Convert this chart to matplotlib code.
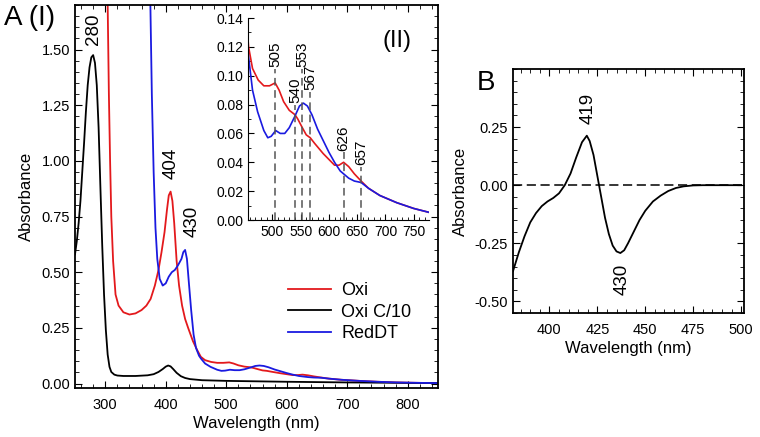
import matplotlib
matplotlib.use("Agg")
import matplotlib.pyplot as plt
from matplotlib.ticker import MultipleLocator

plt.rcParams['font.family'] = ['Liberation Sans', 'DejaVu Sans']

# ---------------- Data ----------------
wl_black = [250, 253, 256, 259, 262, 265, 268, 271, 274, 277, 280, 283, 286, 289, 292, 295, 298,
            301, 304, 307, 310, 315, 320, 330, 350, 370, 380, 388, 395, 400, 404, 408, 412, 418,
            425, 432, 440, 460, 500, 600, 700, 850]
abs_black = [0.58, 0.64, 0.72, 0.82, 0.95, 1.08, 1.22, 1.34, 1.42, 1.465, 1.475, 1.44, 1.34,
             1.15, 0.88, 0.62, 0.40, 0.24, 0.13, 0.075, 0.052, 0.040, 0.036, 0.034, 0.034, 0.037,
             0.042, 0.052, 0.065, 0.076, 0.081, 0.077, 0.066, 0.048, 0.033, 0.025, 0.020, 0.015,
             0.012, 0.008, 0.005, 0.002]

wl_red = [300, 303, 306, 308, 310, 313, 317, 322, 330, 340, 350, 360, 368, 375, 382, 388, 393,
          398, 402, 405, 408, 411, 414, 418, 422, 427, 432, 437, 445, 452, 458, 465, 475, 485,
          495, 505, 512, 520, 530, 540, 545, 553, 560, 567, 575, 590, 600, 610, 618, 626, 635,
          645, 657, 670, 690, 720, 750, 780, 820, 850]
abs_red = [2.5, 1.9, 1.3, 1.0, 0.75, 0.55, 0.40, 0.35, 0.32, 0.31, 0.315, 0.33, 0.35, 0.38,
           0.44, 0.51, 0.59, 0.68, 0.78, 0.845, 0.862, 0.82, 0.72, 0.55, 0.44, 0.35, 0.29, 0.25,
           0.19, 0.15, 0.12, 0.105, 0.097, 0.093, 0.093, 0.095, 0.090, 0.082, 0.076, 0.073,
           0.070, 0.064, 0.059, 0.057, 0.053, 0.046, 0.042, 0.038, 0.038, 0.040, 0.037, 0.032,
           0.027, 0.022, 0.017, 0.012, 0.008, 0.005, 0.003, 0.002]

wl_blue = [371, 374, 377, 380, 383, 386, 390, 395, 400, 405, 410, 415, 420, 426, 429, 432, 435,
           438, 442, 446, 450, 455, 458, 465, 474, 485, 492, 498, 506, 514, 522, 530, 540, 548,
           555, 562, 570, 580, 590, 600, 610, 620, 626, 635, 645, 657, 670, 690, 720, 750, 780,
           820, 850]
abs_blue = [2.5, 1.8, 1.3, 0.95, 0.70, 0.56, 0.47, 0.44, 0.45, 0.48, 0.50, 0.51, 0.53, 0.56,
            0.59, 0.60, 0.56, 0.46, 0.33, 0.22, 0.16, 0.125, 0.113, 0.09, 0.075, 0.062, 0.057,
            0.058, 0.062, 0.060, 0.060, 0.064, 0.072, 0.079, 0.081, 0.079, 0.073, 0.063, 0.055,
            0.047, 0.040, 0.034, 0.032, 0.029, 0.027, 0.026, 0.022, 0.017, 0.012, 0.008, 0.005,
            0.003, 0.002]

inset_marks = [505, 540, 553, 567, 626, 657]
inset_mark_tops = [0.105, 0.080, 0.105, 0.089, 0.047, 0.037]

wl_diff = [381, 384, 387, 390, 393, 396, 399, 402, 405, 408, 411, 414, 417, 419.5, 421, 423, 425,
           427, 429, 431, 433, 435, 437, 439, 441, 444, 447, 450, 454, 458, 462, 466, 470, 475,
           480, 500]
abs_diff = [-0.37, -0.29, -0.22, -0.16, -0.12, -0.09, -0.07, -0.055, -0.035, 0.0, 0.05, 0.12,
            0.185, 0.213, 0.19, 0.13, 0.04, -0.05, -0.14, -0.21, -0.26, -0.285, -0.292, -0.28,
            -0.25, -0.20, -0.15, -0.11, -0.07, -0.045, -0.025, -0.012, -0.005, -0.001, 0.0, 0.0]

RED = '#e3191c'
BLUE = '#1a1ae0'
lw = 1.3
tick_fs = 10.5
lab_fs = 12

fig = plt.figure(figsize=(7.6, 4.37), dpi=100)

# ---------------- Panel A ----------------
axA = fig.add_axes([75/760, 1-388/437, 363/760, 383/437])
axA.plot(wl_red, abs_red, color=RED, lw=lw, label='Oxi')
axA.plot(wl_black, abs_black, color='black', lw=lw, label='Oxi C/10')
axA.plot(wl_blue, abs_blue, color=BLUE, lw=lw, label='RedDT')
axA.set_xlim(250, 850)
axA.set_ylim(-0.02, 1.70)
axA.xaxis.set_minor_locator(MultipleLocator(20))
axA.yaxis.set_minor_locator(MultipleLocator(0.05))
axA.set_xticks([300, 400, 500, 600, 700, 800])
axA.set_yticks([0, 0.25, 0.5, 0.75, 1.0, 1.25, 1.5])
axA.set_yticklabels(['0.00', '0.25', '0.50', '0.75', '1.00', '1.25', '1.50'])
axA.tick_params(which='both', direction='in', top=True, right=True, labelsize=tick_fs)
axA.tick_params(which='major', length=5)
axA.tick_params(which='minor', length=3)
axA.tick_params(axis='x', pad=7)
axA.set_xlabel('Wavelength (nm)', fontsize=lab_fs, labelpad=3)
axA.set_ylabel('Absorbance', fontsize=lab_fs, labelpad=5)
for s in axA.spines.values():
    s.set_linewidth(1.3)
axA.text(280, 1.52, '280', rotation=90, ha='center', va='bottom', fontsize=13.5)
axA.text(409, 0.92, '404', rotation=90, ha='center', va='bottom', fontsize=13.5)
axA.text(443, 0.66, '430', rotation=90, ha='center', va='bottom', fontsize=13.5)
axA.legend(loc='upper left', bbox_to_anchor=(0.587, 0.277), frameon=False, fontsize=13,
           handlelength=2.4, handletextpad=0.55, labelspacing=0.26, borderaxespad=0,
           borderpad=0)

# ---------------- Inset (II) ----------------
axI = fig.add_axes([248/760, 1-220/437, 181/760, 202/437])
axI.plot(wl_red, abs_red, color=RED, lw=1.2)
axI.plot(wl_blue, abs_blue, color=BLUE, lw=1.2)
axI.set_xlim(457, 777)
axI.set_ylim(0, 0.14)
for x, t in zip(inset_marks, inset_mark_tops):
    axI.plot([x, x], [0, t], color='#555555', lw=1.1, ls=(0, (5, 3)))
    axI.text(x, t + 0.001, str(x), rotation=90, ha='center', va='bottom', fontsize=11)
axI.spines['top'].set_visible(False)
axI.spines['right'].set_visible(False)
axI.set_xticks([500, 550, 600, 650, 700, 750])
axI.xaxis.set_minor_locator(MultipleLocator(10))
axI.set_yticks([0, 0.02, 0.04, 0.06, 0.08, 0.10, 0.12, 0.14])
axI.set_yticklabels(['0.00', '0.02', '0.04', '0.06', '0.08', '0.10', '0.12', '0.14'])
axI.yaxis.set_minor_locator(MultipleLocator(0.01))
axI.tick_params(which='both', direction='in', labelsize=10)
axI.tick_params(which='major', length=4)
axI.tick_params(which='minor', length=2.5)
axI.patch.set_alpha(0)
fig.text(397/760, 1-41/437, '(II)', fontsize=17, ha='center', va='center')

fig.text(4/760, 1-18/437, 'A (I)', fontsize=20, ha='left', va='center')

# ---------------- Panel B ----------------
axB = fig.add_axes([513/760, 1-313/437, 231/760, 244/437])
axB.plot(wl_diff, abs_diff, color='black', lw=lw)
axB.axhline(0, color='black', lw=1.1, ls=(0, (6, 3)))
axB.set_xlim(381, 501.5)
axB.set_ylim(-0.55, 0.50)
axB.set_xticks([400, 425, 450, 475, 500])
axB.xaxis.set_minor_locator(MultipleLocator(5))
axB.set_yticks([-0.5, -0.25, 0, 0.25])
axB.set_yticklabels(['-0.50', '-0.25', '0.00', '0.25'])
axB.yaxis.set_minor_locator(MultipleLocator(0.05))
axB.tick_params(which='both', direction='in', top=True, right=True, labelsize=tick_fs)
axB.tick_params(which='major', length=5)
axB.tick_params(which='minor', length=3)
axB.tick_params(axis='x', pad=7)
axB.set_xlabel('Wavelength (nm)', fontsize=lab_fs, labelpad=3)
axB.set_ylabel('Absorbance', fontsize=lab_fs, labelpad=5)
for s in axB.spines.values():
    s.set_linewidth(1.3)
axB.text(420, 0.263, '419', rotation=90, ha='center', va='bottom', fontsize=13.5)
axB.text(438, -0.34, '430', rotation=90, ha='center', va='top', fontsize=13.5)
fig.text(486/760, 1-83/437, 'B', fontsize=20, ha='center', va='center')

fig.savefig('out.png', dpi=100)
